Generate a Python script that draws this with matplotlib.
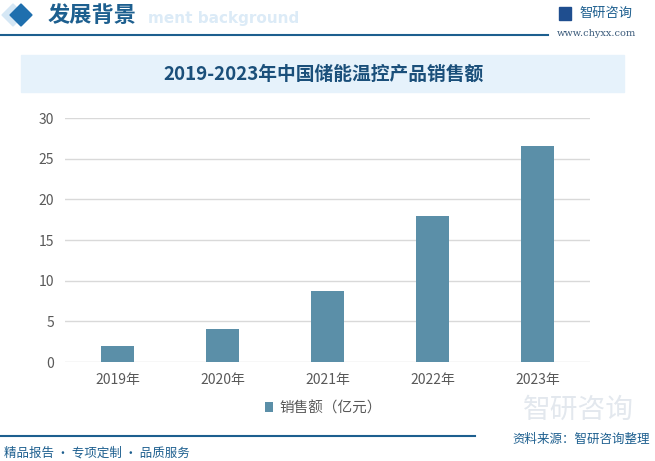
import matplotlib
matplotlib.use('Agg')
import matplotlib.pyplot as plt
from matplotlib.patches import Rectangle, Polygon

plt.rcParams['font.family'] = ['Noto Sans CJK SC', 'DejaVu Sans']

# data
years = ['2019年', '2020年', '2021年', '2022年', '2023年']
sales = [2.0, 4.1, 8.7, 17.9, 26.6]
y_ticks = [0, 5, 10, 15, 20, 25, 30]

title = '2019-2023年中国储能温控产品销售额'
legend_label = '销售额（亿元）'
source = '资料来源：智研咨询整理'
slogan = '精品报告 · 专项定制 · 品质服务'

bar_color = '#5b8fa8'
dark_blue = '#1d5f8f'
tick_color = '#595959'

fig = plt.figure(figsize=(6.55, 4.61), dpi=100)
W, H = 655.0, 461.0


def fx(px):
    return px / W


def fy(py):
    return 1 - py / H


# header
fig.patches.append(Polygon([(fx(2), fy(15)), (fx(13), fy(4)), (fx(24), fy(15)),
                            (fx(13), fy(26))], closed=True, transform=fig.transFigure,
                           color='#d5e7f5', zorder=0))
fig.patches.append(Polygon([(fx(10), fy(15)), (fx(21), fy(4)), (fx(32), fy(15)),
                            (fx(21), fy(26))], closed=True, transform=fig.transFigure,
                           color='#1f6fae'))
fig.text(fx(148), fy(18), 'ment background', fontsize=11, fontweight='bold',
         color='#dcebf7', va='center', ha='left', family='DejaVu Sans')
fig.text(fx(48), fy(15), '发展背景', fontsize=16, color=dark_blue, va='center',
         ha='left', fontweight='bold')
fig.add_artist(plt.Line2D([0, fx(548)], [fy(35), fy(35)], color=dark_blue, lw=1.5))
fig.text(fx(579), fy(13), '智研咨询', fontsize=9.5, color=dark_blue, va='center',
         ha='left')
fig.patches.append(Rectangle((fx(559), fy(20)), fx(12), 13 / H, transform=fig.transFigure,
                             color='#1f4e8f'))
fig.text(fx(557), fy(33), 'www.chyxx.com', fontsize=7, color='#3a5a7a', va='center',
         ha='left', family='DejaVu Serif')

# title band
fig.patches.append(Rectangle((fx(21), fy(92)), fx(603), 37 / H, transform=fig.transFigure,
                             color='#e6f2fb', zorder=0))
fig.text(fx(324), fy(74), title, fontsize=13.5, fontweight='bold', color='#1a4f7a',
         ha='center', va='center')

# watermark
fig.text(fx(578), fy(410), '智研咨询', fontsize=20, color='#e3e8ee', ha='center',
         va='center', zorder=0)

ax = fig.add_axes([fx(65), fy(362), fx(525), 244 / H])
ax.bar(range(len(years)), sales, width=0.314, color=bar_color, zorder=3,
       label=legend_label)
ax.set_xlim(-0.5, len(years) - 0.5)
ax.set_ylim(0, 30)
ax.set_yticks(y_ticks)
ax.set_xticks(range(len(years)))
ax.set_xticklabels(years)
ax.grid(axis='y', color='#d9d9d9', lw=1, zorder=0)
for s in ax.spines.values():
    s.set_visible(False)
ax.tick_params(axis='both', length=0, colors=tick_color, labelsize=10)
ax.tick_params(axis='y', pad=8)
ax.tick_params(axis='x', pad=8)
ax.patch.set_alpha(0)

leg = ax.legend(loc='center', bbox_to_anchor=(fx(323), fy(408)),
                bbox_transform=fig.transFigure, frameon=False, fontsize=10.5,
                handlelength=0.6, handleheight=0.6, handletextpad=0.4)
for t in leg.get_texts():
    t.set_color(tick_color)

# footer
fig.add_artist(plt.Line2D([0, fx(475)], [fy(436), fy(436)], color=dark_blue, lw=1.5))
fig.text(fx(650), fy(439), source, fontsize=9, color=dark_blue, ha='right', va='center')
fig.text(fx(4), fy(453), slogan, fontsize=9, color=dark_blue, ha='left', va='center')

fig.savefig('out.png', dpi=100)
